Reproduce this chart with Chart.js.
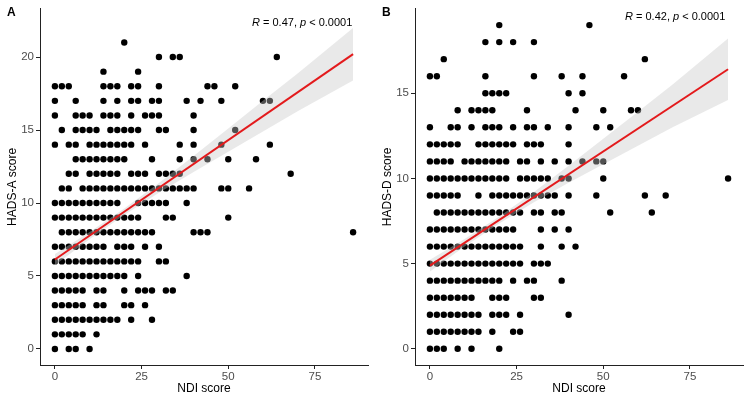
<!DOCTYPE html>
<html>
<head>
<meta charset="utf-8">
<title>NDI vs HADS</title>
<script src="https://cdn.jsdelivr.net/npm/chart.js@4.4.0/dist/chart.umd.min.js"></script>
<style>
  html, body { margin: 0; padding: 0; background: #fff; }
  #wrap { position: relative; width: 750px; height: 402px; }
  .panel { position: absolute; top: 0; width: 375px; height: 402px; }
</style>
</head>
<body>
<div id="wrap">
  <div class="panel" style="left:0"><canvas id="chartA" width="375" height="402"></canvas></div>
  <div class="panel" style="left:375px"><canvas id="chartB" width="375" height="402"></canvas></div>
</div>
<script>
// Axis ticks
const ndiTicks = [0, 25, 50, 75];
const hadsATicks = [0, 5, 10, 15, 20];
const hadsDTicks = [0, 5, 10, 15];

// Panel A: NDI scores found at each HADS-A score (index = HADS-A 0..21)
const ndiByHadsA = [
    [0, 4, 6, 10],
    [0, 2, 4, 6, 8, 12],
    [0, 2, 4, 6, 8, 10, 12, 14, 16, 18, 22, 28],
    [0, 2, 4, 6, 8, 12, 14, 20, 22, 26],
    [0, 2, 4, 6, 8, 12, 14, 20, 24, 26, 28, 32, 34],
    [0, 2, 4, 6, 8, 10, 12, 14, 16, 18, 20, 24, 38],
    [0, 2, 4, 6, 8, 10, 12, 14, 16, 18, 20, 22, 24, 30, 32],
    [0, 2, 4, 6, 8, 10, 12, 14, 18, 20, 22, 26, 30],
    [2, 4, 6, 8, 10, 12, 14, 16, 18, 20, 22, 24, 26, 28, 40, 42, 44, 86],
    [0, 2, 4, 6, 8, 10, 12, 14, 16, 18, 20, 22, 24, 32, 34, 50],
    [0, 2, 4, 6, 8, 10, 12, 14, 16, 18, 24, 26, 28, 30, 32, 38],
    [2, 4, 8, 10, 12, 14, 16, 18, 20, 22, 24, 26, 28, 30, 32, 34, 36, 38, 40, 48, 50, 56],
    [4, 6, 10, 12, 14, 16, 18, 22, 24, 26, 30, 32, 34, 36, 68],
    [6, 8, 10, 12, 14, 16, 18, 20, 28, 36, 40, 44, 50, 58],
    [0, 4, 6, 10, 12, 14, 16, 18, 20, 22, 26, 36, 40, 48, 62],
    [2, 6, 8, 10, 12, 16, 18, 20, 22, 24, 30, 32, 40, 52],
    [0, 6, 8, 10, 14, 16, 18, 22, 26, 28, 30, 40],
    [0, 6, 14, 18, 22, 24, 28, 30, 38, 42, 48, 60, 62],
    [0, 2, 4, 14, 16, 18, 22, 24, 30, 44, 46, 52],
    [14, 24],
    [30, 34, 36, 64],
    [20]
];

// Panel B: NDI scores found at each HADS-D score (index = HADS-D 0..19)
const ndiByHadsD = [
    [0, 2, 4, 8, 12, 20],
    [0, 2, 4, 6, 8, 10, 12, 14, 18, 24, 26],
    [0, 2, 4, 6, 8, 10, 12, 14, 18, 20, 22, 26, 40],
    [0, 2, 4, 6, 8, 10, 12, 18, 20, 22, 30, 32],
    [0, 2, 4, 6, 8, 10, 12, 14, 16, 18, 20, 24, 28, 30, 38],
    [0, 2, 4, 6, 8, 10, 12, 14, 16, 18, 20, 22, 24, 26, 30, 32, 34],
    [0, 2, 4, 6, 8, 10, 12, 14, 16, 18, 20, 22, 24, 26, 32, 38, 42],
    [0, 2, 4, 6, 8, 10, 12, 14, 16, 18, 20, 22, 24, 32, 36, 40],
    [2, 4, 6, 8, 10, 12, 14, 16, 18, 20, 22, 24, 26, 30, 32, 36, 38, 52, 64],
    [0, 2, 4, 6, 8, 14, 18, 20, 22, 24, 26, 28, 30, 32, 34, 36, 40, 48, 62, 68],
    [0, 2, 4, 6, 8, 10, 12, 14, 16, 18, 20, 22, 26, 28, 30, 32, 34, 38, 40, 50, 86],
    [0, 2, 4, 6, 10, 12, 14, 16, 18, 20, 22, 26, 28, 32, 36, 40, 44, 48, 50],
    [0, 2, 4, 6, 8, 14, 16, 18, 20, 22, 24, 28, 30, 32, 40],
    [0, 6, 8, 12, 16, 18, 20, 24, 28, 30, 34, 40, 48, 52],
    [8, 12, 14, 16, 18, 28, 42, 50, 58, 60],
    [16, 18, 20, 22, 40, 44],
    [0, 2, 16, 30, 38, 44, 56],
    [4, 62],
    [16, 20, 24, 30],
    [20, 46]
];

// Linear fits and their confidence bands
const fitX = [0, 86];
const fitA = [6.13, 20.2];
const fitD = [4.88, 16.41];
const bandX = [0, 10, 20, 30, 40, 50, 60, 70, 86];
const bandUpperA = [6.51, 8.02, 9.62, 11.37, 13.22, 15.11, 17.0, 18.88, 22.0];
const bandLowerA = [5.75, 7.52, 9.18, 10.71, 12.12, 13.51, 14.9, 16.28, 18.4];
const bandUpperD = [5.23, 6.44, 7.76, 9.20, 10.74, 12.33, 13.92, 15.51, 18.21];
const bandLowerD = [4.53, 6.00, 7.36, 8.60, 9.74, 10.83, 11.92, 13.01, 14.61];

const FONT = "'Liberation Sans', Arial, Helvetica, sans-serif";

/**
 * Draws the panel letter and the correlation label
 */
const labelsPlugin = {
    id: 'panelLabels',
    afterDatasetsDraw(chart, args, opts) {
        const ctx = chart.ctx;
        ctx.save();
        ctx.fillStyle = '#000';
        ctx.textBaseline = 'alphabetic';
        ctx.textAlign = 'left';

        // panel letter
        ctx.font = 'bold 12px ' + FONT;
        ctx.fillText(opts.letter, opts.letterX, opts.letterY);

        // R = .., p < ..
        const parts = [
            ['italic', 'R'],
            ['normal', ' = ' + opts.r + ', '],
            ['italic', 'p'],
            ['normal', ' < 0.0001']
        ];
        let x = opts.statX;
        parts.forEach(([style, text]) => {
            ctx.font = style + ' 11px ' + FONT;
            ctx.fillText(text, x, opts.statY);
            x += ctx.measureText(text).width;
        });
        ctx.restore();
    }
};

function toPoints(xs, ys) {
    return xs.map((x, i) => ({ x: x, y: ys[i] }));
}

function buildPanel(canvasId, rows, yTicks, yMin, yMax, yTitle, fitY, upper, lower, labelOpts) {
    const points = [];
    rows.forEach((ndiList, hads) => {
        ndiList.forEach(ndi => points.push({ x: ndi, y: hads }));
    });

    const axisColor = '#222';
    const tickFont = { family: FONT, size: 11.5 };
    const titleFont = { family: FONT, size: 12 };

    return new Chart(document.getElementById(canvasId), {
        type: 'scatter',
        data: {
            datasets: [
                {
                    type: 'line',
                    data: toPoints(fitX, fitY),
                    borderColor: '#e31a1c',
                    borderWidth: 2,
                    pointRadius: 0,
                    fill: false,
                    order: -1
                },
                {
                    type: 'line',
                    data: toPoints(bandX, upper),
                    borderColor: 'rgba(0,0,0,0)',
                    borderWidth: 1,
                    pointRadius: 0,
                    fill: false,
                    order: 0
                },
                {
                    type: 'line',
                    data: toPoints(bandX, lower),
                    borderColor: 'rgba(0,0,0,0)',
                    borderWidth: 1,
                    pointRadius: 0,
                    fill: '-1',
                    backgroundColor: 'rgba(200,200,200,0.4)',
                    order: 0
                },
                {
                    data: points,
                    backgroundColor: '#000',
                    borderWidth: 0,
                    pointRadius: 3.2,
                    order: 1
                }
            ]
        },
        options: {
            responsive: false,
            animation: false,
            events: [],
            devicePixelRatio: 1,
            layout: { padding: { top: 7, right: 7, bottom: 0, left: 0 } },
            plugins: {
                legend: { display: false },
                tooltip: { enabled: false },
                panelLabels: labelOpts
            },
            scales: {
                x: {
                    type: 'linear',
                    min: -4.3,
                    max: 90.3,
                    afterBuildTicks: s => { s.ticks = ndiTicks.map(v => ({ value: v })); },
                    afterFit: s => { s.height = 37; },
                    grid: { display: true, drawOnChartArea: false, drawTicks: true, tickLength: 4, color: axisColor },
                    border: { display: true, color: axisColor, width: 1 },
                    ticks: { color: '#4d4d4d', font: tickFont, padding: 1, maxRotation: 0 },
                    title: { display: true, text: 'NDI score', color: '#000', font: titleFont, padding: { top: 0, bottom: 6 } }
                },
                y: {
                    type: 'linear',
                    min: yMin,
                    max: yMax,
                    afterBuildTicks: s => { s.ticks = yTicks.map(v => ({ value: v })); },
                    afterFit: s => { s.width = 40; },
                    grid: { display: true, drawOnChartArea: false, drawTicks: true, tickLength: 4, color: axisColor },
                    border: { display: true, color: axisColor, width: 1 },
                    ticks: { color: '#4d4d4d', font: tickFont, padding: 2 },
                    title: { display: true, text: yTitle, color: '#000', font: titleFont, padding: { top: 5, bottom: 0 } }
                }
            }
        },
        plugins: [labelsPlugin]
    });
}

buildPanel('chartA', ndiByHadsA, hadsATicks, -1.1, 23.3, 'HADS-A score',
    fitA, bandUpperA, bandLowerA,
    { letter: 'A', letterX: 7, letterY: 16, r: '0.47', statX: 252, statY: 26 });

buildPanel('chartB', ndiByHadsD, hadsDTicks, -0.95, 19.95, 'HADS-D score',
    fitD, bandUpperD, bandLowerD,
    { letter: 'B', letterX: 7, letterY: 16, r: '0.42', statX: 250, statY: 20 });
</script>
</body>
</html>
